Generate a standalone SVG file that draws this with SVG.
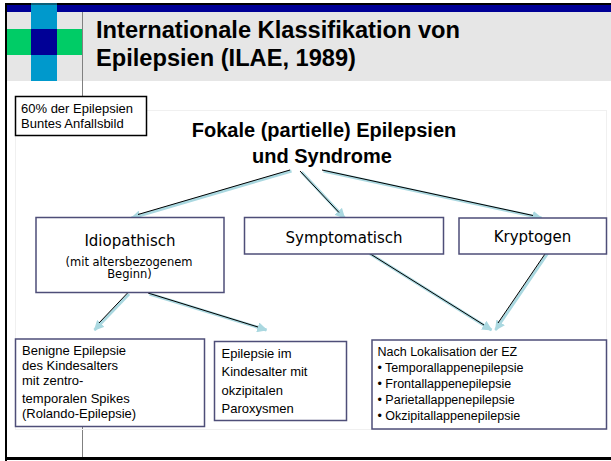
<svg xmlns="http://www.w3.org/2000/svg" width="611" height="461" viewBox="0 0 611 461">
<defs>
<style>
.title{font-family:"Liberation Sans",Arial,sans-serif;font-weight:bold;font-size:23px;fill:#000}
.head{font-family:"Liberation Sans",Arial,sans-serif;font-weight:bold;font-size:20px;fill:#000;text-anchor:middle}
.node{font-family:"DejaVu Sans",Tahoma,sans-serif;font-size:15px;fill:#000;text-anchor:middle}
.small{font-family:"DejaVu Sans",Tahoma,sans-serif;font-size:11.5px;fill:#000;text-anchor:middle}
.txt{font-family:"Liberation Sans",Arial,sans-serif;font-size:13px;fill:#000}
.box{fill:#fff;stroke:#4e4e78;stroke-width:1.5}
.cy{stroke:#aad8e0;stroke-width:3;fill:none;marker-end:url(#ah)}
.bk{stroke:#000;stroke-width:1;fill:none}
</style>
<marker id="ah" viewBox="0 0 10 10" refX="9" refY="5" markerWidth="3.4" markerHeight="3.4" orient="auto" markerUnits="strokeWidth">
<path d="M0,0 L10,5 L0,10 Z" fill="#aad8e0"/>
</marker>
</defs>
<rect x="0" y="0" width="611" height="461" fill="#fff"/>
<g id="header">
<rect x="7" y="12" width="604" height="69" fill="#e6e6e6"/>
<rect x="5" y="3" width="606" height="2" fill="#000"/>
<rect x="7" y="5" width="604" height="7" fill="#000096"/>
<rect x="31" y="3" width="26" height="78" fill="#0099cc"/>
<rect x="31" y="3" width="26" height="2" fill="#0b5f78"/>
<rect x="7" y="29" width="75" height="26" fill="#00cc66"/>
<rect x="31" y="29" width="26" height="26" fill="#000096"/>
<line x1="82.5" y1="12" x2="82.5" y2="96" stroke="#808080" stroke-width="1"/>
<line x1="82.5" y1="427" x2="82.5" y2="458" stroke="#808080" stroke-width="1"/>
<rect x="5" y="3" width="2" height="458" fill="#000"/>
<rect x="5" y="457" width="606" height="3" fill="#000"/>
<text class="title" x="96" y="38" textLength="364" lengthAdjust="spacingAndGlyphs">Internationale Klassifikation von</text>
<text class="title" x="96" y="66" textLength="260" lengthAdjust="spacingAndGlyphs">Epilepsien (ILAE, 1989)</text>
</g>
<rect x="15.5" y="110.5" width="591" height="319" fill="none" stroke="#f0f0f0" stroke-width="1"/>
<g id="callout">
<rect x="15.5" y="96.5" width="131" height="39" fill="#fff" stroke="#000" stroke-width="1.5"/>
<text class="txt" x="21" y="112.5">60% der Epilepsien</text>
<text class="txt" x="21" y="127.5">Buntes Anfallsbild</text>
</g>
<g id="heading">
<text class="head" x="324" y="137">Fokale (partielle) Epilepsien</text>
<text class="head" x="322" y="163">und Syndrome</text>
</g>
<g id="connectors">
<line class="cy" x1="291.5" y1="171" x2="131.5" y2="218"/>
<line class="bk" x1="290" y1="170" x2="138" y2="214.5"/>
<line class="cy" x1="301.5" y1="172" x2="344.5" y2="218"/>
<line class="bk" x1="300" y1="171" x2="339" y2="212.5"/>
<line class="cy" x1="323.5" y1="171" x2="541.5" y2="218"/>
<line class="bk" x1="322" y1="170" x2="533" y2="215.5"/>
<line class="cy" x1="129" y1="294" x2="94.5" y2="330"/>
<line class="bk" x1="127.5" y1="293" x2="99" y2="323"/>
<line class="cy" x1="149.5" y1="294" x2="266.5" y2="330"/>
<line class="bk" x1="148" y1="293" x2="258" y2="327"/>
<line class="cy" x1="369.5" y1="253.5" x2="491.5" y2="330"/>
<line class="bk" x1="368" y1="252.5" x2="484" y2="325"/>
<line class="cy" x1="547.5" y1="253.5" x2="495.5" y2="330"/>
<line class="bk" x1="546" y1="252.5" x2="498" y2="323"/>
</g>
<g id="idiopathisch">
<rect class="box" x="36" y="217.5" width="188" height="75"/>
<text class="node" x="130" y="246">Idiopathisch</text>
<text class="small" x="129" y="265.5">(mit altersbezogenem</text>
<text class="small" x="129.5" y="278">Beginn)</text>
</g>
<g id="symptomatisch">
<rect class="box" x="244.5" y="217.5" width="199" height="36.5"/>
<text class="node" x="344" y="243">Symptomatisch</text>
</g>
<g id="kryptogen">
<rect class="box" x="459" y="218" width="147.5" height="36"/>
<text class="node" x="532.5" y="242">Kryptogen</text>
</g>
<g id="benigne">
<rect class="box" x="15.5" y="339" width="189" height="87.5"/>
<text class="txt" x="22" y="355">Benigne Epilepsie</text>
<text class="txt" x="22" y="370">des Kindesalters</text>
<text class="txt" x="22" y="385">mit zentro-</text>
<text class="txt" x="22" y="403">temporalen Spikes</text>
<text class="txt" x="22" y="418">(Rolando-Epilepsie)</text>
</g>
<g id="okzipital">
<rect class="box" x="214.5" y="341.5" width="132" height="79"/>
<text class="txt" x="221.5" y="357.5">Epilepsie im</text>
<text class="txt" x="221.5" y="376">Kindesalter mit</text>
<text class="txt" x="221.5" y="394.5">okzipitalen</text>
<text class="txt" x="221.5" y="413">Paroxysmen</text>
</g>
<g id="lokalisation">
<rect class="box" x="372" y="340" width="234.5" height="89"/>
<text class="txt" x="377.5" y="356" style="font-size:12.5px">Nach Lokalisation der EZ</text>
<text class="txt" x="377.5" y="372" style="font-size:12.5px">• Temporallappenepilepsie</text>
<text class="txt" x="377.5" y="388" style="font-size:12.5px">• Frontallappenepilepsie</text>
<text class="txt" x="377.5" y="404" style="font-size:12.5px">• Parietallappenepilepsie</text>
<text class="txt" x="377.5" y="420" style="font-size:12.5px">• Okzipitallappenepilepsie</text>
</g>
</svg>
